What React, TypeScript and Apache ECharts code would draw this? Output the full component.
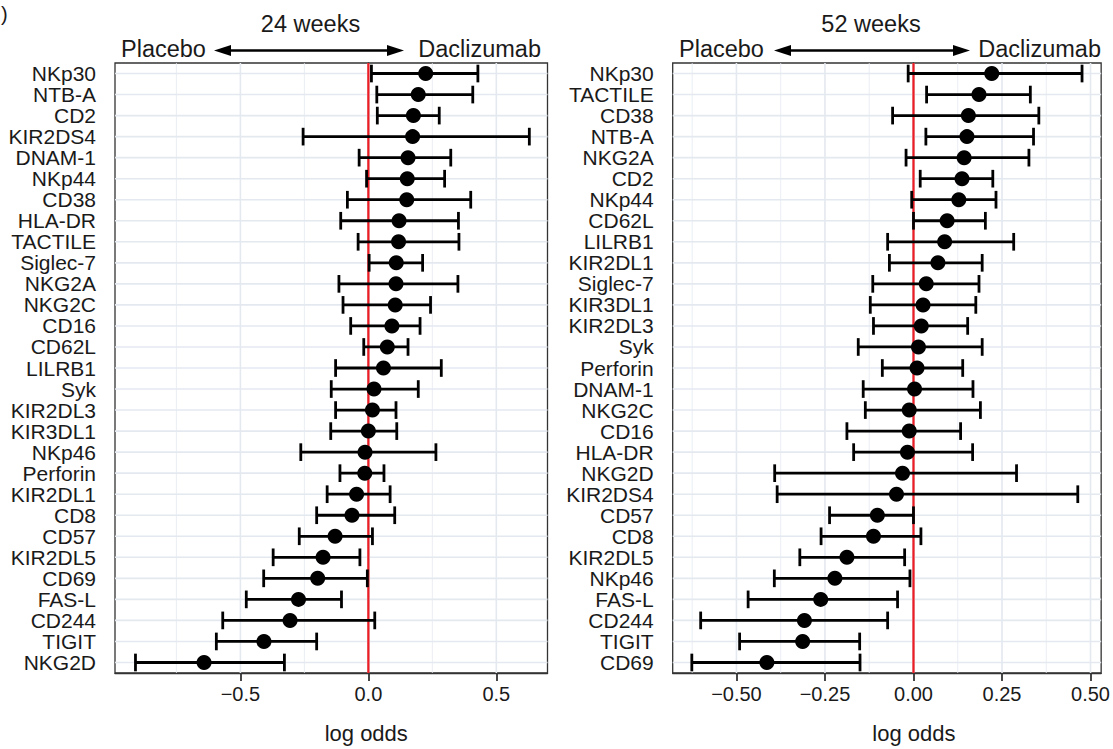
import React, { useEffect, useRef } from "react";
import * as echarts from "echarts";

// ---------- data: 24 weeks ----------
const markers24 = ["NKp30","NTB-A","CD2","KIR2DS4","DNAM-1","NKp44","CD38","HLA-DR","TACTILE","Siglec-7","NKG2A","NKG2C","CD16","CD62L","LILRB1","Syk","KIR2DL3","KIR3DL1","NKp46","Perforin","KIR2DL1","CD8","CD57","KIR2DL5","CD69","FAS-L","CD244","TIGIT","NKG2D"];
const est24 = [0.224,0.195,0.176,0.173,0.155,0.152,0.150,0.120,0.118,0.109,0.108,0.105,0.092,0.074,0.059,0.022,0.016,0.0,-0.013,-0.014,-0.046,-0.064,-0.130,-0.177,-0.198,-0.273,-0.306,-0.408,-0.642];
const low24 = [0.012,0.033,0.035,-0.255,-0.036,-0.007,-0.082,-0.108,-0.040,0.003,-0.115,-0.099,-0.069,-0.018,-0.128,-0.145,-0.128,-0.147,-0.264,-0.111,-0.161,-0.202,-0.270,-0.372,-0.409,-0.477,-0.569,-0.594,-0.910];
const high24 = [0.428,0.408,0.277,0.629,0.322,0.298,0.400,0.352,0.354,0.212,0.350,0.243,0.202,0.155,0.285,0.195,0.108,0.111,0.264,0.061,0.085,0.103,0.016,-0.033,-0.004,-0.105,0.025,-0.202,-0.328];

// ---------- data: 52 weeks ----------
const markers52 = ["NKp30","TACTILE","CD38","NTB-A","NKG2A","CD2","NKp44","CD62L","LILRB1","KIR2DL1","Siglec-7","KIR3DL1","KIR2DL3","Syk","Perforin","DNAM-1","NKG2C","CD16","HLA-DR","NKG2D","KIR2DS4","CD57","CD8","KIR2DL5","NKp46","FAS-L","CD244","TIGIT","CD69"];
const est52 = [0.221,0.185,0.155,0.151,0.143,0.137,0.128,0.095,0.088,0.069,0.036,0.027,0.022,0.014,0.010,0.003,-0.012,-0.012,-0.017,-0.031,-0.048,-0.102,-0.113,-0.188,-0.222,-0.262,-0.308,-0.313,-0.414];
const low52 = [-0.015,0.037,-0.059,0.035,-0.021,0.019,-0.005,0.0,-0.073,-0.068,-0.115,-0.122,-0.113,-0.156,-0.088,-0.142,-0.136,-0.188,-0.169,-0.392,-0.385,-0.237,-0.261,-0.321,-0.393,-0.467,-0.601,-0.491,-0.626];
const high52 = [0.476,0.330,0.354,0.339,0.326,0.224,0.233,0.203,0.283,0.194,0.185,0.176,0.153,0.194,0.139,0.168,0.189,0.133,0.167,0.291,0.464,0.0,0.021,-0.025,-0.010,-0.045,-0.073,-0.152,-0.151];

// ---------- axes ----------
const majorTicks24 = [-0.5, 0, 0.5];
const minorTicks24 = [-0.75, -0.25, 0.25];
const majorTicks52 = [-0.5, -0.25, 0, 0.25, 0.5];
const minorTicks52 = [-0.625, -0.375, -0.125, 0.125, 0.375];
const range24 = [-0.99, 0.70];
const range52 = [-0.68, 0.53];
const referenceLine = 0;
const titles = ["24 weeks", "52 weeks"];
const leftLabel = "Placebo";
const rightLabel = "Daclizumab";
const xTitle = "log odds";

const FONT = "'Liberation Sans', Arial, Helvetica, sans-serif";
const TEXT = "#1a1a1a";
const FRAME = "#333333";
const GRIDC = "#e4e9f0";

function fmt(decimals: number) {
  return (v: number) => {
    const s = Math.abs(v).toFixed(decimals);
    return v < -1e-9 ? "\u2212" + s : s;
  };
}

function panel(i: number, cats: string[], est: number[], lo: number[], hi: number[], majors: number[], minors: number[], range: number[], decimals: number, nameShift: number) {
  const xAxis = {
    gridIndex: i, type: "value", min: range[0], max: range[1],
    axisLine: { show: true, lineStyle: { color: FRAME, width: 1.3 } },
    splitLine: { show: false },
    axisTick: { show: true, customValues: majors, length: 8, lineStyle: { color: FRAME, width: 1.8 } },
    axisLabel: { customValues: majors, formatter: fmt(decimals), fontSize: 20, color: TEXT, margin: 11, fontFamily: FONT },
    name: xTitle, nameLocation: "middle", nameGap: 49,
    nameTextStyle: { fontSize: 22, color: TEXT, fontFamily: FONT, padding: [0, 0, 0, nameShift] },
  };
  const yAxis = {
    gridIndex: i, type: "category", data: cats, inverse: true,
    axisLine: { show: true, lineStyle: { color: FRAME, width: 1.3 } },
    axisTick: { alignWithLabel: true, length: 8, lineStyle: { color: FRAME, width: 1.8 } },
    axisLabel: { interval: 0, fontSize: 21, color: TEXT, margin: 19, fontFamily: FONT },
    splitLine: { show: false },
  };
  const vGrid = [
    ...majors.map((v) => [v, 0, 1.6]),
    ...minors.map((v) => [v, 0, 0.8]),
  ];
  const series = [
    {
      type: "custom", xAxisIndex: i, yAxisIndex: i, z: 1, silent: true,
      data: vGrid,
      renderItem: (params: any, api: any) => {
        const cs = params.coordSys;
        const x = api.coord([api.value(0), 0])[0];
        return { type: "line", shape: { x1: x, y1: cs.y, x2: x, y2: cs.y + cs.height }, style: { stroke: GRIDC, lineWidth: api.value(2) } };
      },
    },
    {
      type: "custom", xAxisIndex: i, yAxisIndex: i, z: 1, silent: true,
      data: cats.map((_, k) => [range[0], k]),
      renderItem: (params: any, api: any) => {
        const cs = params.coordSys;
        const y = api.coord([api.value(0), api.value(1)])[1];
        return { type: "line", shape: { x1: cs.x, y1: y, x2: cs.x + cs.width, y2: y }, style: { stroke: GRIDC, lineWidth: 1.6 } };
      },
    },
    {
      type: "custom", xAxisIndex: i, yAxisIndex: i, z: 2, silent: true,
      data: [[referenceLine, 0]],
      renderItem: (params: any, api: any) => {
        const cs = params.coordSys;
        const x = api.coord([api.value(0), 0])[0];
        return { type: "line", shape: { x1: x, y1: cs.y, x2: x, y2: cs.y + cs.height }, style: { stroke: "#ee1c24", lineWidth: 2.2 } };
      },
    },
    {
      type: "custom", xAxisIndex: i, yAxisIndex: i, z: 3, silent: true,
      encode: { x: [0, 1], y: 2 },
      data: cats.map((_, k) => [lo[k], hi[k], k]),
      renderItem: (params: any, api: any) => {
        const c = api.value(2);
        const a = api.coord([api.value(0), c]);
        const b = api.coord([api.value(1), c]);
        const h = api.size([0, 1])[1] * 0.42;
        const st = { stroke: "#000", lineWidth: 2.8 };
        return {
          type: "group",
          children: [
            { type: "line", shape: { x1: a[0], y1: a[1], x2: b[0], y2: b[1] }, style: st },
            { type: "line", shape: { x1: a[0], y1: a[1] - h, x2: a[0], y2: a[1] + h }, style: st },
            { type: "line", shape: { x1: b[0], y1: b[1] - h, x2: b[0], y2: b[1] + h }, style: st },
          ],
        };
      },
    },
    {
      type: "scatter", xAxisIndex: i, yAxisIndex: i, z: 4, silent: true,
      symbol: "circle", symbolSize: 15,
      itemStyle: { color: "#000", opacity: 1 },
      data: cats.map((_, k) => [est[k], k]),
    },
  ];
  return { xAxis, yAxis, series };
}

function arrow(x0: number, x1: number, y: number) {
  const hl = 17, hh = 5.5;
  return [
    { type: "line", shape: { x1: x0 + hl - 2, y1: y, x2: x1 - hl + 2, y2: y }, style: { stroke: "#000", lineWidth: 2.6 } },
    { type: "polygon", shape: { points: [[x0, y], [x0 + hl, y - hh], [x0 + hl, y + hh]] }, style: { fill: "#000" } },
    { type: "polygon", shape: { points: [[x1, y], [x1 - hl, y - hh], [x1 - hl, y + hh]] }, style: { fill: "#000" } },
  ];
}

function headerText(text: string, x: number, y: number, align: string, size: number) {
  return { type: "text", x, y, style: { text, fill: TEXT, fontSize: size, fontFamily: FONT, align, verticalAlign: "middle" } };
}

export default function App() {
  const ref = useRef<HTMLDivElement>(null);
  useEffect(() => {
    if (!ref.current) return;
    const chart = echarts.init(ref.current, undefined, { renderer: "svg" });
    const p1 = panel(0, markers24, est24, low24, high24, majorTicks24, minorTicks24, range24, 1, 70);
    const p2 = panel(1, markers52, est52, low52, high52, majorTicks52, minorTicks52, range52, 2, 54);
    const gridBase = { top: 63, height: 617, show: true, borderColor: FRAME, borderWidth: 1.3, backgroundColor: "#fff", containLabel: false };
    chart.setOption({
      animation: false,
      backgroundColor: "#fff",
      grid: [
        { ...gridBase, left: 115, width: 432.5 },
        { ...gridBase, left: 672.7, width: 433 },
      ],
      xAxis: [p1.xAxis, p2.xAxis],
      yAxis: [p1.yAxis, p2.yAxis],
      series: [...p1.series, ...p2.series],
      graphic: [
        headerText(")", 1, 14, "left", 20),
        headerText(titles[0], 310.5, 23.5, "center", 23.5),
        headerText(leftLabel, 121, 48.5, "left", 23.5),
        headerText(rightLabel, 541, 48.5, "right", 23.5),
        ...arrow(214, 404, 50.5),
        headerText(titles[1], 871, 23.5, "center", 23.5),
        headerText(leftLabel, 679, 48.5, "left", 23.5),
        headerText(rightLabel, 1101, 48.5, "right", 23.5),
        ...arrow(774, 970, 50.5),
      ],
    });
    return () => chart.dispose();
  }, []);
  return <div ref={ref} style={{ position: "fixed", left: 0, top: 0, width: 1113, height: 749, background: "#fff" }} />;
}
